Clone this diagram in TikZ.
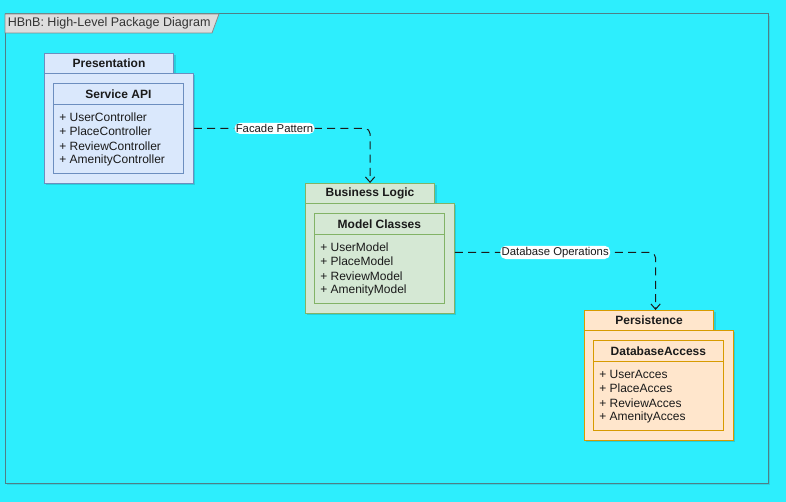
\documentclass[tikz,border=0pt]{standalone}
\usepackage{fontspec}
\setmainfont{Liberation Sans}
\usetikzlibrary{shadows,arrows.meta,calc}
\definecolor{bgc}{HTML}{2DEEFD}
\definecolor{framec}{HTML}{4F7F86}
\definecolor{titlefill}{HTML}{DDDDDD}
\definecolor{titledraw}{HTML}{8A8A8A}
\definecolor{bluefill}{HTML}{DAE8FC}
\definecolor{bluedraw}{HTML}{6C8EBF}
\definecolor{greenfill}{HTML}{D5E8D4}
\definecolor{greendraw}{HTML}{82B366}
\definecolor{orangefill}{HTML}{FFE6CC}
\definecolor{orangedraw}{HTML}{D79B00}
\definecolor{textc}{HTML}{1A1A1A}
\tikzset{
  shad/.style={drop shadow={shadow xshift=1.5pt,shadow yshift=-1.5pt,opacity=0.13,fill=black}},
  pkgtab/.style={shad,draw=#1draw,fill=#1fill,anchor=north west,minimum width=97pt,minimum height=15pt,inner sep=0pt,font=\fontsize{9}{10}\selectfont\bfseries,text=textc,line width=0.6pt},
  pkgbody/.style={shad,draw=#1draw,fill=#1fill,anchor=north west,minimum width=111.75pt,minimum height=82.5pt,inner sep=0pt,line width=0.6pt},
  clshead/.style={draw=#1draw,fill=#1fill,anchor=north west,minimum width=97.5pt,minimum height=15.75pt,inner sep=0pt,font=\fontsize{9}{10}\selectfont\bfseries,text=textc,line width=0.6pt},
  clsbody/.style={draw=#1draw,fill=#1fill,anchor=north west,minimum width=97.5pt,minimum height=51.75pt,inner sep=0pt,line width=0.6pt},
  member/.style={anchor=west,inner sep=0pt,font=\fontsize{9}{10}\selectfont,text=textc},
  conn/.style={draw=textc,line width=0.75pt,dash pattern=on 6pt off 4pt,rounded corners=4pt,-{Straight Barb[length=4pt,width=7pt,line width=0.75pt]}},
  clabel/.style={fill=white,inner sep=1pt,font=\fontsize{8.5}{9}\selectfont,text=textc}
}
\begin{document}
\begin{tikzpicture}[x=0.75pt,y=-0.75pt]
\fill[bgc] (0,0) rectangle (786,502);
\useasboundingbox (0,0) rectangle (786,502);
% frame
\draw[framec,line width=0.75pt,drop shadow={shadow xshift=1.5pt,shadow yshift=-1.5pt,opacity=0.1,fill=black},fill=bgc] (5,14) rectangle (768,483);
\draw[titledraw,fill=titlefill,line width=0.6pt] (5,14) -- (219,14) -- (212,33) -- (5,33) -- cycle;
\node[anchor=west,inner sep=0pt,font=\fontsize{9.4}{10}\selectfont,text=black!80] (title) at (7.5,23.5) {HBnB: High-Level Package Diagram};

% Presentation
\node[pkgtab=blue] (ptab) at (44,53) {Presentation};
\node[pkgbody=blue] (pbody) at (44,73) {};
\node[clshead=blue] (phead) at (53,83) {Service API};
\node[clsbody=blue] (pcls) at (53,104) {};
\node[member] (p1) at (59,117) {+ UserController};
\node[member] (p2) at (59,131.5) {+ PlaceController};
\node[member] (p3) at (59,146) {+ ReviewController};
\node[member] (p4) at (59,160.5) {+ AmenityController};

% Business Logic
\node[pkgtab=green] (btab) at (305,183) {Business Logic};
\node[pkgbody=green] (bbody) at (305,203) {};
\node[clshead=green] (bhead) at (314,213) {Model Classes};
\node[clsbody=green] (bcls) at (314,234) {};
\node[member] (b1) at (320,247) {+ UserModel};
\node[member] (b2) at (320,261.5) {+ PlaceModel};
\node[member] (b3) at (320,276) {+ ReviewModel};
\node[member] (b4) at (320,290.5) {+ AmenityModel};

% Persistence
\node[pkgtab=orange] (dtab) at (584,310) {Persistence};
\node[pkgbody=orange] (dbody) at (584,330) {};
\node[clshead=orange] (dhead) at (593,340) {DatabaseAccess};
\node[clsbody=orange] (dcls) at (593,361) {};
\node[member] (d1) at (599,374) {+ UserAcces};
\node[member] (d2) at (599,388.5) {+ PlaceAcces};
\node[member] (d3) at (599,403) {+ ReviewAcces};
\node[member] (d4) at (599,417.5) {+ AmenityAcces};

% connectors
\draw[conn] (pbody.east) -| node[clabel,pos=0.229] (l1) {Facade Pattern} (btab.north);
\coordinate (c2s) at ($(bbody.east)+(0,-6)$);
\coordinate (c2e) at ($(dtab.north)+(6.5,0)$);
\draw[conn] (c2s) -| node[clabel,pos=0.25] (l2) {Database Operations} (c2e);
\end{tikzpicture}
\end{document}
